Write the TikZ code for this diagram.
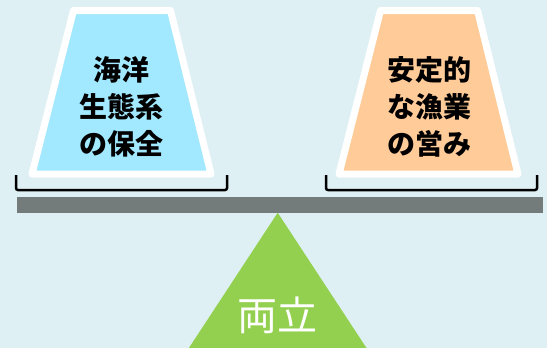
\documentclass[tikz,border=0pt]{standalone}
\usepackage{fontspec}
\newfontfamily\jp{Noto Sans CJK JP}
\definecolor{bgc}{HTML}{DFF0F5}
\definecolor{pbl}{HTML}{A2E8FE}
\definecolor{por}{HTML}{FFCC99}
\definecolor{barc}{HTML}{737B7B}
\definecolor{grn}{HTML}{94D050}
\tikzset{
  pan/.style={line width=7pt, draw=white, line join=round},
  brk/.style={line width=2.5pt, draw=black, rounded corners=2pt},
  lbl/.style={font=\jp\bfseries\fontsize{28}{37}\selectfont, align=center, text=black, inner sep=0pt},
}
\begin{document}
\begin{tikzpicture}[x=1pt,y=-1pt]
\useasboundingbox (0,0) rectangle (547,348);
\fill[bgc] (0,0) rectangle (547,348);
% left pan
\filldraw[pan, fill=pbl] (73.5,10.5) -- (170.5,10.5) -- (211,174) -- (32,174) -- cycle;
\node[lbl] (left) at (121.5,107) {海洋\\生態系\\の保全};
% right pan
\filldraw[pan, fill=por] (380.5,10.5) -- (477.5,10.5) -- (518,174) -- (339,174) -- cycle;
\node[lbl] (right) at (429,107) {安定的\\な漁業\\の営み};
% brackets
\draw[brk] (16,175) -- (16,190) -- (227,190) -- (227,175);
\draw[brk] (326,175) -- (326,190) -- (537,190) -- (537,175);
% beam
\fill[barc] (17,197) rectangle (543,213);
% fulcrum
\fill[grn] (277.7,212.7) -- (366.5,348) -- (188.9,348) -- cycle;
\node[font=\jp\fontsize{40}{40}\selectfont, text=white, inner sep=0pt] (both) at (277,315) {両立};
\end{tikzpicture}
\end{document}
